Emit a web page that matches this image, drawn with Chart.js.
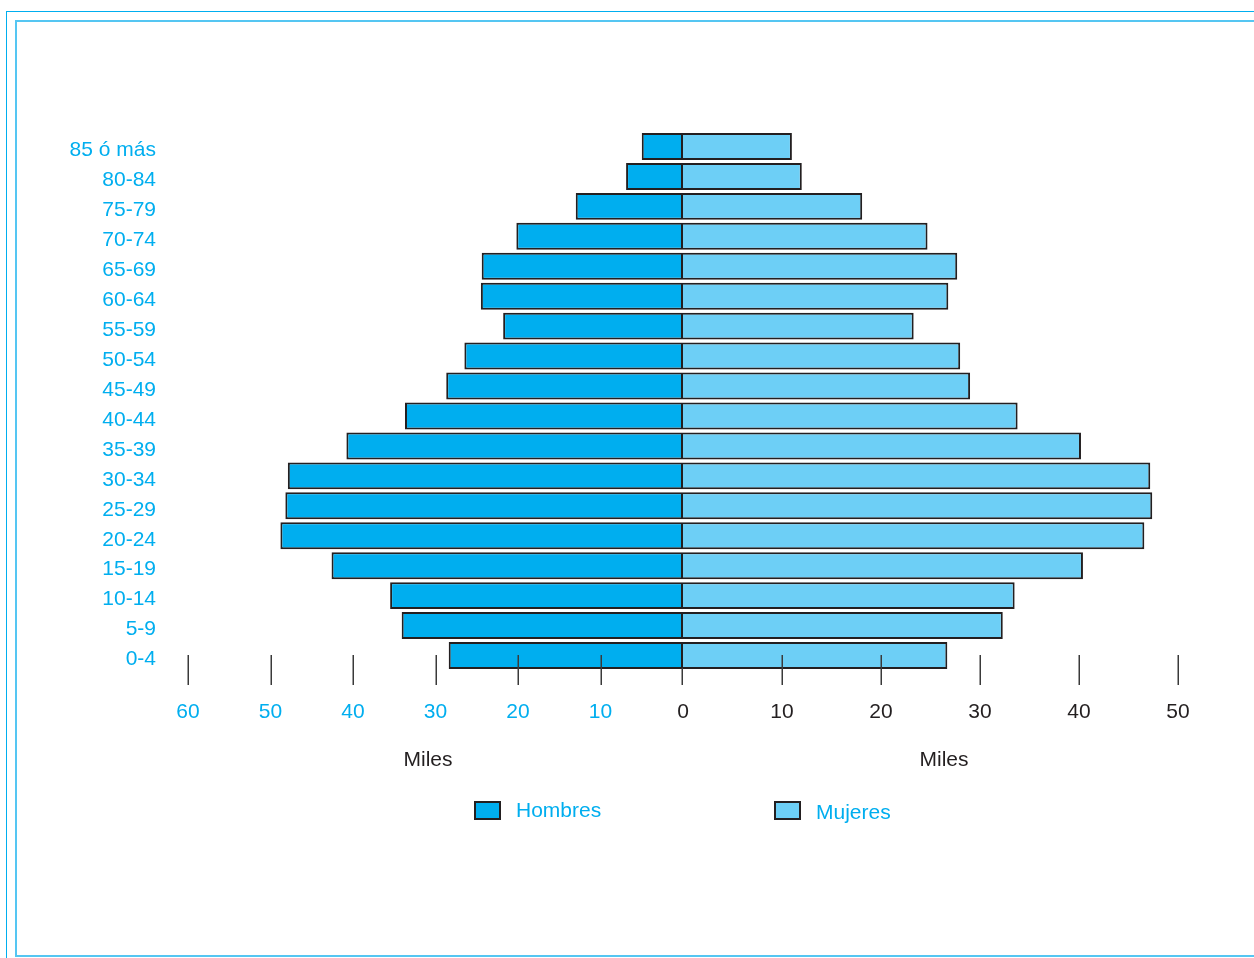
<!DOCTYPE html>
<html>
<head>
<meta charset="utf-8">
<script src="https://cdn.jsdelivr.net/npm/chart.js@4/dist/chart.umd.min.js"></script>
<style>
  html, body { margin: 0; padding: 0; width: 1254px; height: 958px; overflow: hidden; background: #fff; }
  #wrap { position: absolute; left: 0; top: 0; width: 1254px; height: 958px; }
  .frame-outer { position: absolute; left: 6px; top: 11px; width: 1300px; height: 1000px; border-left: 1px solid #00aeef; border-top: 1px solid #00aeef; }
  .frame-inner { position: absolute; left: 15px; top: 20px; width: 1300px; height: 933px; border-left: 2px solid #55c6f2; border-top: 2px solid #55c6f2; border-bottom: 2px solid #55c6f2; }
</style>
</head>
<body>
<div class="frame-outer"></div>
<div class="frame-inner"></div>
<div id="wrap"><canvas id="c"></canvas></div>
<script>
// ---- data ----
const ageGroups = ["85 ó más","80-84","75-79","70-74","65-69","60-64","55-59","50-54","45-49","40-44","35-39","30-34","25-29","20-24","15-19","10-14","5-9","0-4"];
const hombres = [5.0, 6.9, 13.0, 20.2, 24.4, 24.5, 21.8, 26.5, 28.7, 33.7, 40.8, 47.9, 48.2, 48.8, 42.6, 35.5, 34.1, 28.4];
const mujeres = [11.0, 12.0, 18.1, 24.7, 27.7, 26.8, 23.3, 28.0, 29.0, 33.8, 40.2, 47.2, 47.4, 46.6, 40.4, 33.5, 32.3, 26.7];
const leftTicks = [60, 50, 40, 30, 20, 10];
const rightTicks = [0, 10, 20, 30, 40, 50];
const axisTitle = "Miles";
const seriesNames = ["Hombres", "Mujeres"];

const FONT = "'Liberation Sans', Arial, Helvetica, sans-serif";
const CYAN = "#00aeef";
const LIGHT = "#6dcff6";
const DARK = "#231f20";

const pyramidPlugin = {
  id: 'pyramidDecor',
  afterDatasetsDraw(chart) {
    const ctx = chart.ctx;
    const xL = chart.scales.xL, xR = chart.scales.xR;
    ctx.save();
    // tick marks
    ctx.strokeStyle = "#3a3a3a";
    ctx.lineWidth = 1.5;
    const t0 = 655, t1 = 685;
    leftTicks.forEach(v => {
      const x = Math.round(xL.getPixelForValue(v)) + 0.25;
      ctx.beginPath(); ctx.moveTo(x, t0); ctx.lineTo(x, t1); ctx.stroke();
    });
    rightTicks.forEach(v => {
      const x = v === 0 ? Math.round(xR.getPixelForValue(v)) - 0.75 : Math.round(xR.getPixelForValue(v)) + 0.25;
      ctx.beginPath(); ctx.moveTo(x, v === 0 ? 668 : t0); ctx.lineTo(x, t1); ctx.stroke();
    });
    // tick labels
    ctx.font = "21px " + FONT;
    ctx.textAlign = "center";
    ctx.textBaseline = "middle";
    ctx.fillStyle = CYAN;
    leftTicks.forEach(v => ctx.fillText(String(v), xL.getPixelForValue(v), 712));
    ctx.fillStyle = DARK;
    rightTicks.forEach(v => ctx.fillText(String(v), xR.getPixelForValue(v), 712));
    // axis titles
    ctx.fillStyle = DARK;
    ctx.fillText(axisTitle, 428, 760);
    ctx.fillText(axisTitle, 944, 760);
    // legend
    const items = [
      { ds: chart.data.datasets[0], bx: 475, by: 802, tx: 516, ty: 811 },
      { ds: chart.data.datasets[1], bx: 775, by: 802, tx: 816, ty: 813 }
    ];
    items.forEach(it => {
      ctx.fillStyle = it.ds.backgroundColor;
      ctx.fillRect(it.bx, it.by, 25, 17);
      ctx.strokeStyle = DARK;
      ctx.lineWidth = 2;
      ctx.strokeRect(it.bx, it.by, 25, 17);
      ctx.fillStyle = CYAN;
      ctx.textAlign = "left";
      ctx.fillText(it.ds.label, it.tx, it.ty);
    });
    ctx.restore();
  }
};

new Chart(document.getElementById('c'), {
  type: 'bar',
  data: {
    labels: ageGroups,
    datasets: [
      {
        label: seriesNames[0], data: hombres, xAxisID: 'xL', yAxisID: 'y',
        backgroundColor: CYAN, borderColor: DARK, borderWidth: 2, borderSkipped: false,
        grouped: false, barPercentage: 0.9, categoryPercentage: 1.0
      },
      {
        label: seriesNames[1], data: mujeres, xAxisID: 'xR', yAxisID: 'y',
        backgroundColor: LIGHT, borderColor: DARK, borderWidth: 2, borderSkipped: 'start',
        grouped: false, barPercentage: 0.9, categoryPercentage: 1.0
      }
    ]
  },
  options: {
    indexAxis: 'y',
    responsive: true,
    maintainAspectRatio: false,
    devicePixelRatio: 1,
    animation: false,
    layout: { padding: { left: 20, right: 76, top: 131.5, bottom: 287.5 } },
    plugins: { legend: { display: false }, tooltip: { enabled: false } },
    scales: {
      xL: { type: 'linear', display: false, reverse: true, min: -60, max: 60 },
      xR: { type: 'linear', display: false, min: -50, max: 50 },
      y: {
        type: 'category', position: 'left',
        grid: { display: false }, border: { display: false },
        ticks: { color: CYAN, font: { family: FONT, size: 21 }, padding: 24, labelOffset: 4, autoSkip: false },
        afterFit(scale) { scale.width = 168; }
      }
    }
  },
  plugins: [pyramidPlugin]
});
</script>
</body>
</html>
